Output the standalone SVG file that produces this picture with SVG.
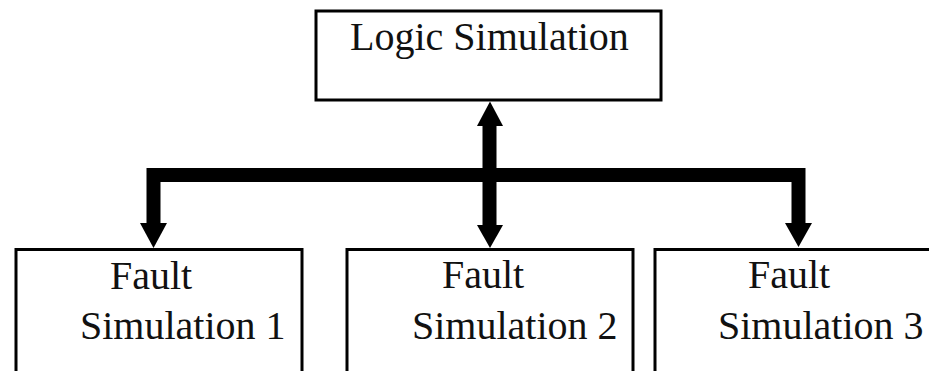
<svg xmlns="http://www.w3.org/2000/svg" width="929" height="371" viewBox="0 0 929 371">
  <style>
    .box { fill: #ffffff; stroke: #000000; stroke-width: 3; }
    .lbl { font-family: "Liberation Serif", "Times New Roman", serif; font-size: 40px; fill: #111111; }
    .wire { fill: none; stroke: #000000; stroke-width: 14; stroke-linejoin: miter; }
    .head { fill: #000000; stroke: none; }
  </style>
  <rect width="929" height="371" fill="#ffffff"/>
  <g id="logic-simulation">
    <rect class="box" x="316" y="11" width="345" height="89"/>
    <text class="lbl" x="350" y="50">Logic Simulation</text>
  </g>
  <g id="fault-simulation-1">
    <rect class="box" x="16" y="249.5" width="286" height="160"/>
    <text class="lbl" x="110" y="289">Fault</text>
    <text class="lbl" x="80" y="339">Simulation 1</text>
  </g>
  <g id="fault-simulation-2">
    <rect class="box" x="347" y="249.5" width="286" height="160"/>
    <text class="lbl" x="442" y="288">Fault</text>
    <text class="lbl" x="412" y="339">Simulation 2</text>
  </g>
  <g id="fault-simulation-3">
    <rect class="box" x="655" y="249.5" width="300" height="160"/>
    <text class="lbl" x="748" y="288">Fault</text>
    <text class="lbl" x="718" y="339">Simulation 3</text>
  </g>
  <g id="connectors">
    <path class="wire" d="M153.5,225 V175 H798.5 V225"/>
    <path class="wire" d="M489.5,124 V227"/>
    <polygon class="head" points="490,101.5 477,126 503,126"/>
    <polygon class="head" points="153.5,248 140,223 167,223"/>
    <polygon class="head" points="490,248 477,225 503,225"/>
    <polygon class="head" points="798.5,247 785,223 812,223"/>
  </g>
</svg>
